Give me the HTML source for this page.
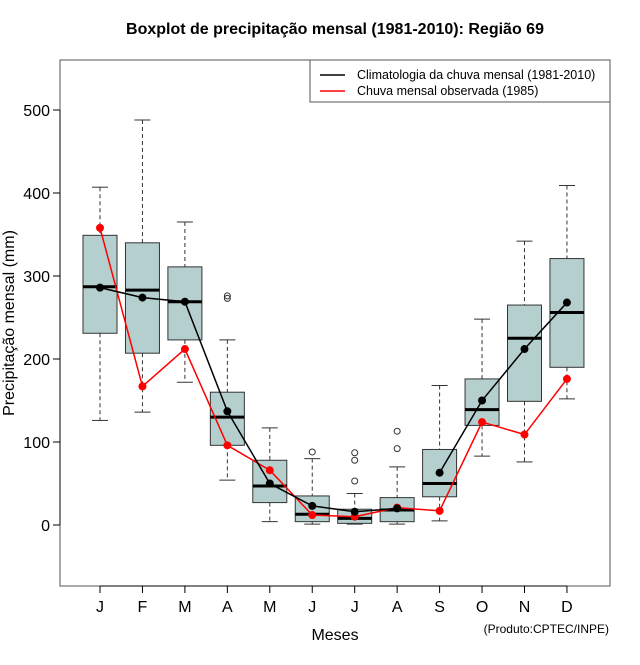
<!DOCTYPE html>
<html><head><meta charset="utf-8"><style>
body{margin:0;background:#fff;}
svg text{font-family:"Liberation Sans",sans-serif;}
</style></head><body>
<svg id="chart" width="640" height="660" xmlns="http://www.w3.org/2000/svg">
<rect width="640" height="660" fill="#fff"/>
<text x="335" y="34" text-anchor="middle" font-size="16" font-weight="bold">Boxplot de precipitação mensal (1981-2010): Região 69</text>
<rect x="60" y="60" width="550" height="526" fill="none" stroke="#555" stroke-width="1"/>
<g id="yaxis"></g>
<g id="xaxis"></g>
<g id="boxes"></g>
<g id="lines"></g>
<text transform="translate(14,323) rotate(-90)" text-anchor="middle" font-size="16">Precipitação mensal (mm)</text>
<text x="335" y="640" text-anchor="middle" font-size="16">Meses</text>
<text x="609" y="633" text-anchor="end" font-size="12">(Produto:CPTEC/INPE)</text>
<g>
<rect x="310" y="60" width="300" height="42" fill="#fff" stroke="#555"/>
<line x1="320" y1="75" x2="345" y2="75" stroke="#000" stroke-width="1.5"/>
<text x="357" y="79" font-size="12.5">Climatologia da chuva mensal (1981-2010)</text>
<line x1="320" y1="91" x2="345" y2="91" stroke="#f00" stroke-width="1.5"/>
<text x="357" y="95" font-size="12.5">Chuva mensal observada (1985)</text>
</g>
</svg>
<script>
const months=["J","F","M","A","M","J","J","A","S","O","N","D"];
const whiskLow=[126,136,172,54,4,1,1,1,5,83,76,152];
const q1=[231,207,223,96,27,4,2,4,34,120,149,190];
const median=[287,283,269,130,47,13,8,18,50,139,225,256];
const q3=[349,340,311,160,78,35,19,33,91,176,265,321];
const whiskHigh=[407,488,365,223,117,80,38,70,168,248,342,409];
const outliers=[[],[],[],[276,273],[],[88],[87,78,53],[113,92],[],[],[],[]];
const climMean=[286,274,269,137,50,23,16,20,63,150,212,268];
const observed=[358,167,212,96,66,12,10,21,17,124,109,176];
const climBreakAfter=7;
const yTicks=[0,100,200,300,400,500];

const NS="http://www.w3.org/2000/svg";
const y=v=>525-0.83*v;
const x=i=>100+i*42.45;
function mk(p,tag,at){const e=document.createElementNS(NS,tag);for(const k in at)e.setAttribute(k,at[k]);p.appendChild(e);return e;}
const ya=document.getElementById('yaxis'),xa=document.getElementById('xaxis'),bx=document.getElementById('boxes'),ln=document.getElementById('lines');
mk(ya,'line',{x1:60,x2:60,y1:y(500),y2:y(0),stroke:'#000'});
yTicks.forEach(t=>{
 mk(ya,'line',{x1:53,x2:60,y1:y(t),y2:y(t),stroke:'#000'});
 const tx=mk(ya,'text',{x:50,y:y(t)+6,'text-anchor':'end','font-size':16});tx.textContent=t;
 
 
});
mk(xa,'line',{x1:x(0),x2:x(11),y1:586,y2:586,stroke:'#000'});
months.forEach((m,i)=>{
 mk(xa,'line',{x1:x(i),x2:x(i),y1:586,y2:593,stroke:'#000'});
 const tx=mk(xa,'text',{x:x(i),y:612,'text-anchor':'middle','font-size':16});tx.textContent=m;
 
 
});
months.forEach((m,i)=>{
 const g=mk(bx,'g',{});
 
 
 const cx=x(i),hw=17;
 mk(g,'line',{x1:cx,x2:cx,y1:y(whiskHigh[i]),y2:y(q3[i]),stroke:'#333','stroke-dasharray':'4,3'});
 mk(g,'line',{x1:cx,x2:cx,y1:y(q1[i]),y2:y(whiskLow[i]),stroke:'#333','stroke-dasharray':'4,3'});
 mk(g,'line',{x1:cx-8,x2:cx+8,y1:y(whiskHigh[i]),y2:y(whiskHigh[i]),stroke:'#333'});
 mk(g,'line',{x1:cx-8,x2:cx+8,y1:y(whiskLow[i]),y2:y(whiskLow[i]),stroke:'#333'});
 mk(g,'rect',{x:cx-hw,y:y(q3[i]),width:2*hw,height:y(q1[i])-y(q3[i]),fill:'#b5cfcf',stroke:'#333'});
 mk(g,'line',{x1:cx-hw,x2:cx+hw,y1:y(median[i]),y2:y(median[i]),stroke:'#000','stroke-width':3});
 outliers[i].forEach(o=>mk(g,'circle',{cx:cx,cy:y(o),r:3,fill:'none',stroke:'#333'}));
});
function series(vals,col,name,brk){
 const segs=brk==null?[vals.map((v,i)=>i)]:[vals.map((v,i)=>i).filter(i=>i<=brk),vals.map((v,i)=>i).filter(i=>i>brk)];
 segs.forEach(s=>{
  const p=mk(ln,'polyline',{points:s.map(i=>x(i)+','+y(vals[i])).join(' '),fill:'none',stroke:col,'stroke-width':1.5});
  
  
 });
 vals.forEach((v,i)=>{const c=mk(ln,'circle',{cx:x(i),cy:y(v),r:4,fill:col});
  
  });
}
series(observed,'#f00','observed',null);
series(climMean,'#000','climatology',climBreakAfter);
</script>
</body></html>
